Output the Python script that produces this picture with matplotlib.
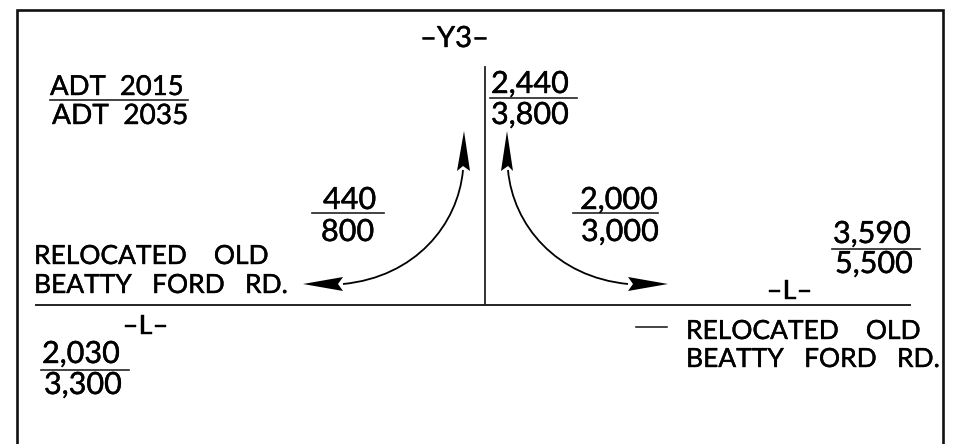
"""Traffic volume diagram, drawn in image pixel coordinates."""
import matplotlib
matplotlib.use("Agg")
import matplotlib.pyplot as plt
import matplotlib.patheffects as pe
from matplotlib.path import Path
from matplotlib.patches import PathPatch, Polygon

WIDTH, HEIGHT = 971, 444
FONT = "Lato"

# text, left x, baseline y, font size
labels = [
    ("ADT  2015", 50, 95, 19.8),
    ("ADT  2035", 52, 124, 20.2),
    ("–Y3–", 420, 47, 21),
    ("2,440", 491, 93, 22),
    ("3,800", 491, 124, 22),
    ("440", 323, 209, 22),
    ("800", 321, 241, 22),
    ("2,000", 580, 209, 22),
    ("3,000", 581, 241, 22),
    ("3,590", 833, 243, 22),
    ("5,500", 835, 273, 22),
    ("2,030", 42, 363, 22),
    ("3,300", 44, 394, 22),
    ("RELOCATED    OLD", 34, 264, 19),
    ("BEATTY   FORD   RD.", 34, 293, 19),
    ("RELOCATED    OLD", 686, 339, 19),
    ("BEATTY   FORD   RD.", 686, 367, 19),
    ("–L–", 123, 334, 19.5),
    ("–L–", 767, 299, 19.5),
]

# fraction bars: x0, x1, y
bars = [
    (50, 188, 100),
    (490, 577, 98.5),
    (312, 384, 213),
    (573, 658, 212.5),
    (832, 920, 249),
    (41, 129, 369.5),
]

road_x = [36, 910]
road_y = 305
centre_x = 485
centre_y = [67, 305]
dash_x = [636, 667]
dash_y = 327

# curved movements: bezier control points
left_curve = [(463, 170), (458, 225), (415, 277), (343, 284)]
right_curve = [(508, 170), (513, 225), (556, 277), (628, 284)]

# arrow heads: tip, back corners and notch
heads = [
    [(464, 131), (470, 171), (463, 166), (457, 171)],
    [(507, 131), (513, 171), (508, 166), (501, 171)],
    [(303, 284), (343, 277), (338, 284), (343, 291)],
    [(668, 284), (628, 277), (633, 284), (628, 291)],
]

fig = plt.figure(figsize=(WIDTH / 100, HEIGHT / 100), dpi=100)
ax = fig.add_axes([0, 0, 1, 1])
ax.set_xlim(0, WIDTH)
ax.set_ylim(HEIGHT, 0)
ax.axis("off")

# open-bottomed frame
ax.plot([17, 17, 943, 943], [HEIGHT, 10, 10, HEIGHT], color="#111111", lw=1.9,
        solid_joinstyle="miter")

ax.plot(road_x, [road_y, road_y], color="#222222", lw=1.4)
ax.plot([centre_x, centre_x], centre_y, color="#222222", lw=1.3)
ax.plot(dash_x, [dash_y, dash_y], color="#111111", lw=1.1)

for x0, x1, y in bars:
    ax.plot([x0, x1], [y, y], color="#222222", lw=1.2)

codes = [Path.MOVETO, Path.CURVE4, Path.CURVE4, Path.CURVE4]
for curve in (left_curve, right_curve):
    ax.add_patch(PathPatch(Path(curve, codes), fc="none", ec="black", lw=1.3))
for head in heads:
    ax.add_patch(Polygon(head, closed=True, fc="black", ec="none"))

# the plotter lettering is heavier than Lato regular
heavier = [pe.withStroke(linewidth=0.3, foreground="black")]
for text, x, y, size in labels:
    ax.text(x, y, text, family=FONT, fontsize=size, ha="left", va="baseline",
            color="black", path_effects=heavier)

fig.savefig("out.png", dpi=100, facecolor="white")
